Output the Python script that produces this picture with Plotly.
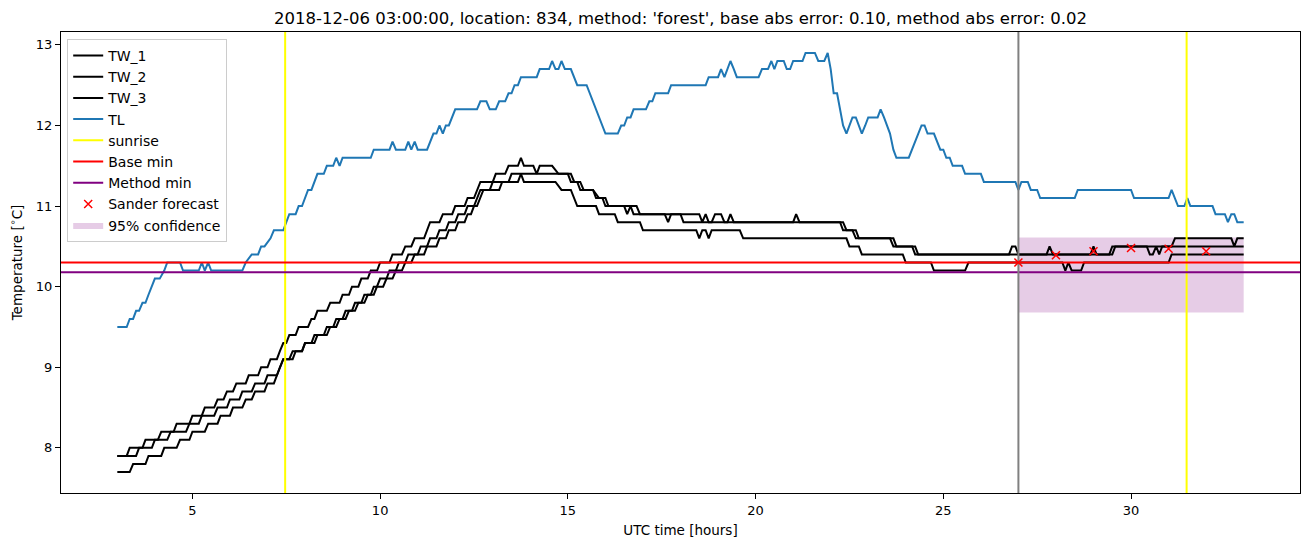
import plotly.graph_objects as go

TITLE = "2018-12-06 03:00:00, location: 834, method: 'forest', base abs error: 0.10, method abs error: 0.02"

# TL (air temperature) knots: (hour, value)
TL_knots = [
    (3.0, 9.5), (3.25, 9.5), (3.33, 9.6), (3.42, 9.6), (3.5, 9.7), (3.58, 9.7), (3.67, 9.8), (3.75, 9.8),
    (3.83, 9.9), (3.92, 10.0), (4.0, 10.1), (4.13, 10.1), (4.25, 10.2), (4.33, 10.3), (4.67, 10.3), (4.75, 10.2),
    (5.17, 10.2), (5.25, 10.3), (5.33, 10.2), (5.42, 10.3), (5.5, 10.2), (6.33, 10.2), (6.42, 10.3), (6.58, 10.4),
    (6.75, 10.4), (6.83, 10.5), (6.92, 10.5), (7.08, 10.6), (7.17, 10.7), (7.42, 10.7), (7.5, 10.8), (7.58, 10.9),
    (7.75, 10.9), (7.83, 11.0), (7.92, 11.0), (8.0, 11.1), (8.08, 11.2), (8.17, 11.2), (8.25, 11.3), (8.33, 11.4),
    (8.5, 11.4), (8.58, 11.5), (8.75, 11.5), (8.83, 11.6), (8.92, 11.5), (9.0, 11.6), (9.75, 11.6), (9.83, 11.7),
    (10.25, 11.7), (10.33, 11.8), (10.42, 11.7), (10.67, 11.7), (10.75, 11.8), (10.83, 11.7), (10.92, 11.8),
    (11.0, 11.7), (11.25, 11.7), (11.33, 11.8), (11.42, 11.9), (11.5, 11.9), (11.58, 12.0), (11.67, 11.9),
    (11.75, 12.0), (11.83, 12.0), (11.92, 12.1), (12.0, 12.2), (12.58, 12.2), (12.67, 12.3), (12.83, 12.3),
    (12.92, 12.2), (13.08, 12.2), (13.17, 12.3), (13.33, 12.3), (13.42, 12.4), (13.5, 12.4), (13.58, 12.5),
    (13.67, 12.5), (13.75, 12.6), (14.17, 12.6), (14.25, 12.7), (14.5, 12.7), (14.58, 12.8), (14.67, 12.7),
    (14.75, 12.7), (14.83, 12.8), (14.92, 12.7), (15.08, 12.7), (15.17, 12.6), (15.25, 12.5), (15.5, 12.5),
    (15.58, 12.4), (15.67, 12.3), (15.75, 12.2), (15.83, 12.1), (15.92, 12.0), (16.0, 11.9), (16.33, 11.9),
    (16.42, 12.0), (16.5, 12.0), (16.58, 12.1), (16.67, 12.1), (16.75, 12.2), (17.08, 12.2), (17.17, 12.3),
    (17.25, 12.3), (17.33, 12.4), (17.67, 12.4), (17.75, 12.5), (18.67, 12.5), (18.75, 12.6), (19.0, 12.6),
    (19.08, 12.7), (19.17, 12.6), (19.25, 12.7), (19.33, 12.8), (19.42, 12.7), (19.5, 12.6), (20.08, 12.6),
    (20.17, 12.7), (20.33, 12.7), (20.42, 12.8), (20.5, 12.7), (20.58, 12.8), (20.75, 12.8), (20.83, 12.7),
    (20.92, 12.7), (21.0, 12.8), (21.25, 12.8), (21.33, 12.9), (21.58, 12.9), (21.67, 12.8), (21.83, 12.8),
    (21.92, 12.9), (22.0, 12.7), (22.08, 12.4), (22.17, 12.4), (22.25, 12.2), (22.33, 12.0), (22.42, 11.9),
    (22.5, 12.0), (22.58, 12.1), (22.67, 12.1), (22.75, 12.0), (22.83, 11.9), (22.92, 12.0), (23.0, 12.1),
    (23.25, 12.1), (23.33, 12.2), (23.42, 12.1), (23.5, 12.0), (23.58, 11.9), (23.67, 11.7), (23.75, 11.6),
    (24.08, 11.6), (24.17, 11.7), (24.25, 11.8), (24.33, 11.9), (24.42, 12.0), (24.5, 12.0), (24.58, 11.9),
    (24.75, 11.9), (24.83, 11.8), (24.92, 11.7), (25.0, 11.7), (25.08, 11.6), (25.17, 11.6), (25.25, 11.5),
    (25.5, 11.5), (25.58, 11.4), (26.0, 11.4), (26.08, 11.3), (26.92, 11.3), (27.0, 11.2), (27.08, 11.3),
    (27.25, 11.3), (27.33, 11.2), (27.5, 11.2), (27.58, 11.1), (28.5, 11.1), (28.58, 11.2), (30.0, 11.2),
    (30.08, 11.1), (31.0, 11.1), (31.08, 11.2), (31.17, 11.1), (31.25, 11.0), (31.42, 11.0), (31.5, 11.1),
    (31.58, 11.0), (32.17, 11.0), (32.25, 10.9), (32.5, 10.9), (32.58, 10.8), (32.67, 10.9), (32.75, 10.9),
    (32.83, 10.8), (33.0, 10.8),
]

TW1_knots = [
    (3.0, 7.9), (3.25, 7.9), (3.33, 8.0), (3.67, 8.0), (3.75, 8.1), (4.08, 8.1), (4.17, 8.2), (4.5, 8.2),
    (4.58, 8.3), (4.92, 8.3), (5.0, 8.4), (5.25, 8.4), (5.33, 8.5), (5.58, 8.5), (5.67, 8.6), (5.83, 8.6),
    (5.92, 8.7), (6.08, 8.7), (6.17, 8.8), (6.42, 8.8), (6.5, 8.9), (6.75, 8.9), (6.83, 9.0), (7.0, 9.0),
    (7.08, 9.1), (7.25, 9.1), (7.33, 9.2), (7.42, 9.3), (7.5, 9.3), (7.58, 9.4), (7.75, 9.4), (7.83, 9.5),
    (8.08, 9.5), (8.17, 9.6), (8.25, 9.6), (8.33, 9.7), (8.58, 9.7), (8.67, 9.8), (8.92, 9.8), (9.0, 9.9),
    (9.17, 9.9), (9.25, 10.0), (9.42, 10.0), (9.5, 10.1), (9.67, 10.1), (9.75, 10.2), (9.92, 10.2), (10.0, 10.3),
    (10.25, 10.3), (10.33, 10.4), (10.58, 10.4), (10.67, 10.5), (10.83, 10.5), (10.92, 10.6), (11.17, 10.6),
    (11.25, 10.7), (11.33, 10.8), (11.58, 10.8), (11.67, 10.9), (11.92, 10.9), (12.0, 11.0), (12.25, 11.0),
    (12.33, 11.1), (12.5, 11.1), (12.58, 11.2), (12.67, 11.3), (13.0, 11.3), (13.08, 11.4), (13.33, 11.4),
    (13.42, 11.5), (13.67, 11.5), (13.75, 11.6), (13.83, 11.5), (14.08, 11.5), (14.17, 11.4), (14.25, 11.5),
    (14.58, 11.5), (14.75, 11.4), (15.08, 11.4), (15.17, 11.3), (15.33, 11.3), (15.42, 11.2), (15.67, 11.2),
    (15.75, 11.1), (15.92, 11.1), (16.0, 11.0), (16.83, 11.0), (16.92, 10.9), (17.58, 10.9), (17.67, 10.8),
    (17.75, 10.9), (18.5, 10.9), (18.58, 10.8), (18.67, 10.9), (18.75, 10.8), (18.83, 10.8), (18.92, 10.9),
    (19.08, 10.9), (19.17, 10.8), (19.25, 10.8), (19.33, 10.9), (19.42, 10.8), (21.0, 10.8), (21.08, 10.9),
    (21.17, 10.8), (22.25, 10.8), (22.33, 10.7), (22.58, 10.7), (22.67, 10.6), (23.58, 10.6), (23.67, 10.5),
    (24.17, 10.5), (24.25, 10.4), (26.75, 10.4), (26.83, 10.5), (26.92, 10.5), (27.0, 10.4), (27.75, 10.4),
    (27.83, 10.5), (27.92, 10.4), (28.92, 10.4), (29.0, 10.5), (29.08, 10.4), (29.42, 10.4), (29.5, 10.5),
    (31.08, 10.5), (31.17, 10.6), (32.67, 10.6), (32.75, 10.5), (32.83, 10.6), (33.0, 10.6),
]

TW2_knots = [
    (3.0, 7.9), (3.5, 7.9), (3.58, 8.0), (3.92, 8.0), (4.0, 8.1), (4.33, 8.1), (4.42, 8.2), (4.83, 8.2),
    (4.92, 8.3), (5.17, 8.3), (5.25, 8.4), (5.58, 8.4), (5.67, 8.5), (5.92, 8.5), (6.0, 8.6), (6.25, 8.6),
    (6.33, 8.7), (6.58, 8.7), (6.67, 8.8), (6.92, 8.8), (7.0, 8.9), (7.25, 8.9), (7.33, 9.0), (7.42, 9.1),
    (7.67, 9.1), (7.75, 9.2), (7.92, 9.2), (8.0, 9.3), (8.25, 9.3), (8.33, 9.4), (8.58, 9.4), (8.67, 9.5),
    (8.83, 9.5), (8.92, 9.6), (9.08, 9.6), (9.17, 9.7), (9.33, 9.7), (9.42, 9.8), (9.58, 9.8), (9.67, 9.9),
    (9.83, 9.9), (9.92, 10.0), (10.0, 10.1), (10.17, 10.1), (10.25, 10.2), (10.42, 10.2), (10.5, 10.3),
    (10.67, 10.3), (10.75, 10.4), (11.0, 10.4), (11.08, 10.5), (11.25, 10.5), (11.33, 10.6), (11.5, 10.6),
    (11.58, 10.7), (11.75, 10.7), (11.83, 10.8), (12.0, 10.8), (12.08, 10.9), (12.25, 10.9), (12.33, 11.0),
    (12.5, 11.0), (12.58, 11.1), (12.67, 11.2), (12.92, 11.2), (13.0, 11.3), (13.42, 11.3), (13.5, 11.4),
    (15.0, 11.4), (15.08, 11.3), (15.25, 11.3), (15.33, 11.2), (15.67, 11.2), (15.83, 11.1), (16.0, 11.1),
    (16.08, 11.0), (16.5, 11.0), (16.58, 10.9), (16.67, 11.0), (16.75, 10.9), (18.0, 10.9), (18.08, 10.8),
    (22.33, 10.8), (22.42, 10.7), (22.67, 10.7), (22.75, 10.6), (23.67, 10.6), (23.75, 10.5), (24.25, 10.5),
    (24.33, 10.4), (29.5, 10.4), (29.58, 10.5), (30.42, 10.5), (30.5, 10.4), (30.58, 10.4), (30.67, 10.5),
    (30.75, 10.4), (30.83, 10.5), (33.0, 10.5),
]

TW3_knots = [
    (3.0, 7.7), (3.33, 7.7), (3.42, 7.8), (3.75, 7.8), (3.83, 7.9), (4.17, 7.9), (4.25, 8.0), (4.58, 8.0),
    (4.67, 8.1), (4.92, 8.1), (5.0, 8.2), (5.33, 8.2), (5.42, 8.3), (5.67, 8.3), (5.75, 8.4), (6.0, 8.4),
    (6.08, 8.5), (6.33, 8.5), (6.42, 8.6), (6.58, 8.6), (6.67, 8.7), (6.92, 8.7), (7.0, 8.8), (7.17, 8.8),
    (7.25, 8.9), (7.33, 9.0), (7.42, 9.1), (7.58, 9.1), (7.67, 9.2), (7.92, 9.2), (8.0, 9.3), (8.17, 9.3),
    (8.25, 9.4), (8.5, 9.4), (8.58, 9.5), (8.75, 9.5), (8.83, 9.6), (9.0, 9.6), (9.08, 9.7), (9.25, 9.7),
    (9.33, 9.8), (9.5, 9.8), (9.58, 9.9), (9.75, 9.9), (9.83, 10.0), (10.08, 10.0), (10.17, 10.1),
    (10.33, 10.1), (10.42, 10.2), (10.58, 10.2), (10.67, 10.3), (10.83, 10.3), (10.92, 10.4), (11.17, 10.4),
    (11.25, 10.5), (11.5, 10.5), (11.58, 10.6), (11.75, 10.6), (11.83, 10.7), (12.0, 10.7), (12.08, 10.8),
    (12.25, 10.8), (12.33, 10.9), (12.42, 10.9), (12.5, 11.0), (12.58, 11.0), (12.67, 11.1), (12.75, 11.2),
    (13.17, 11.2), (13.25, 11.3), (13.67, 11.3), (13.75, 11.4), (13.83, 11.3), (14.67, 11.3), (14.83, 11.2),
    (15.08, 11.2), (15.25, 11.0), (15.75, 11.0), (15.83, 10.9), (16.25, 10.9), (16.33, 10.8), (16.92, 10.8),
    (17.0, 10.7), (18.42, 10.7), (18.5, 10.6), (18.58, 10.7), (18.67, 10.7), (18.75, 10.6), (18.83, 10.7),
    (19.58, 10.7), (19.67, 10.6), (22.42, 10.6), (22.5, 10.5), (22.75, 10.5), (22.83, 10.4), (23.92, 10.4),
    (24.0, 10.3), (24.67, 10.3), (24.75, 10.2), (25.58, 10.2), (25.67, 10.3), (28.17, 10.3), (28.25, 10.2),
    (28.33, 10.3), (28.42, 10.2), (28.67, 10.2), (28.75, 10.3), (31.0, 10.3), (31.08, 10.4), (33.0, 10.4),
]

SUNRISE_HOURS = [7.47, 31.48]
FORECAST_START = 27.0
BASE_MIN = 10.30
METHOD_MIN = 10.18
SANDER_HOURS = [27, 28, 29, 30, 31, 32]
SANDER_VALUES = [10.30, 10.39, 10.44, 10.48, 10.47, 10.44]
CONF_HOURS = [27, 33]
CONF_LOW = [9.68, 9.68]
CONF_HIGH = [10.61, 10.61]

X_RANGE = [1.5, 34.5]
Y_RANGE = [7.44, 13.16]
X_TICKS = [5, 10, 15, 20, 25, 30]
Y_TICKS = [8, 9, 10, 11, 12, 13]

LW = 2


def split(knots):
    return [k[0] for k in knots], [k[1] for k in knots]


fig = go.Figure()

# confidence band (drawn first, listed last in legend)
fig.add_trace(go.Scatter(x=CONF_HOURS, y=CONF_LOW, mode="lines", line=dict(width=0),
                         showlegend=False, hoverinfo="skip"))
fig.add_trace(go.Scatter(x=CONF_HOURS, y=CONF_HIGH, mode="lines", line=dict(width=0),
                         fill="tonexty", fillcolor="rgba(128,0,128,0.2)",
                         name="95% confidence", legendrank=9))

for i, (nm, kn) in enumerate([("TW_1", TW1_knots), ("TW_2", TW2_knots), ("TW_3", TW3_knots)]):
    xs, ys = split(kn)
    fig.add_trace(go.Scatter(x=xs, y=ys, mode="lines", name=nm,
                             line=dict(color="black", width=LW), legendrank=1 + i))

xs, ys = split(TL_knots)
fig.add_trace(go.Scatter(x=xs, y=ys, mode="lines", name="TL",
                         line=dict(color="#1f77b4", width=LW), legendrank=4))

# sunrise vertical lines
sx, sy = [], []
for h in SUNRISE_HOURS:
    sx += [h, h, None]
    sy += [Y_RANGE[0], Y_RANGE[1], None]
fig.add_trace(go.Scatter(x=sx, y=sy, mode="lines", name="sunrise",
                         line=dict(color="#ffff00", width=LW), legendrank=5))

fig.add_trace(go.Scatter(x=X_RANGE, y=[BASE_MIN, BASE_MIN], mode="lines", name="Base min",
                         line=dict(color="red", width=LW), legendrank=6))
fig.add_trace(go.Scatter(x=X_RANGE, y=[METHOD_MIN, METHOD_MIN], mode="lines", name="Method min",
                         line=dict(color="purple", width=LW), legendrank=7))

# forecast start vertical line
fig.add_trace(go.Scatter(x=[FORECAST_START, FORECAST_START], y=Y_RANGE, mode="lines",
                         line=dict(color="gray", width=LW), showlegend=False))

fig.add_trace(go.Scatter(x=SANDER_HOURS, y=SANDER_VALUES, mode="markers", name="Sander forecast",
                         marker=dict(symbol="x-thin", size=8, color="red",
                                     line=dict(color="red", width=1.5)),
                         legendrank=8))

axis_common = dict(showline=True, linecolor="black", linewidth=1, mirror=True, ticks="outside",
                   ticklen=5, tickwidth=1, tickcolor="black", showgrid=False, zeroline=False,
                   tickfont=dict(size=13, color="black"))

fig.update_layout(
    width=1311, height=547,
    margin=dict(l=61, r=11, t=32, b=54),
    paper_bgcolor="white", plot_bgcolor="white",
    font=dict(family="DejaVu Sans", size=13, color="black"),
    title=dict(text=TITLE, x=0.5, xref="paper", xanchor="center",
               y=1 - 18 / 547, yref="container", yanchor="middle",
               font=dict(size=16.5, color="black")),
    xaxis=dict(range=X_RANGE, tickvals=X_TICKS,
               title=dict(text="UTC time [hours]", font=dict(size=13.5), standoff=8), **axis_common),
    yaxis=dict(range=Y_RANGE, tickvals=Y_TICKS,
               title=dict(text="Temperature [<sup>∘</sup>C]", font=dict(size=13.5), standoff=10), **axis_common),
    legend=dict(x=0.005, y=0.985, xanchor="left", yanchor="top", traceorder="normal",
                bgcolor="rgba(255,255,255,0.85)", bordercolor="#cccccc", borderwidth=1,
                font=dict(size=14), tracegroupgap=0),
    showlegend=True,
)

fig.write_html("out.html")
